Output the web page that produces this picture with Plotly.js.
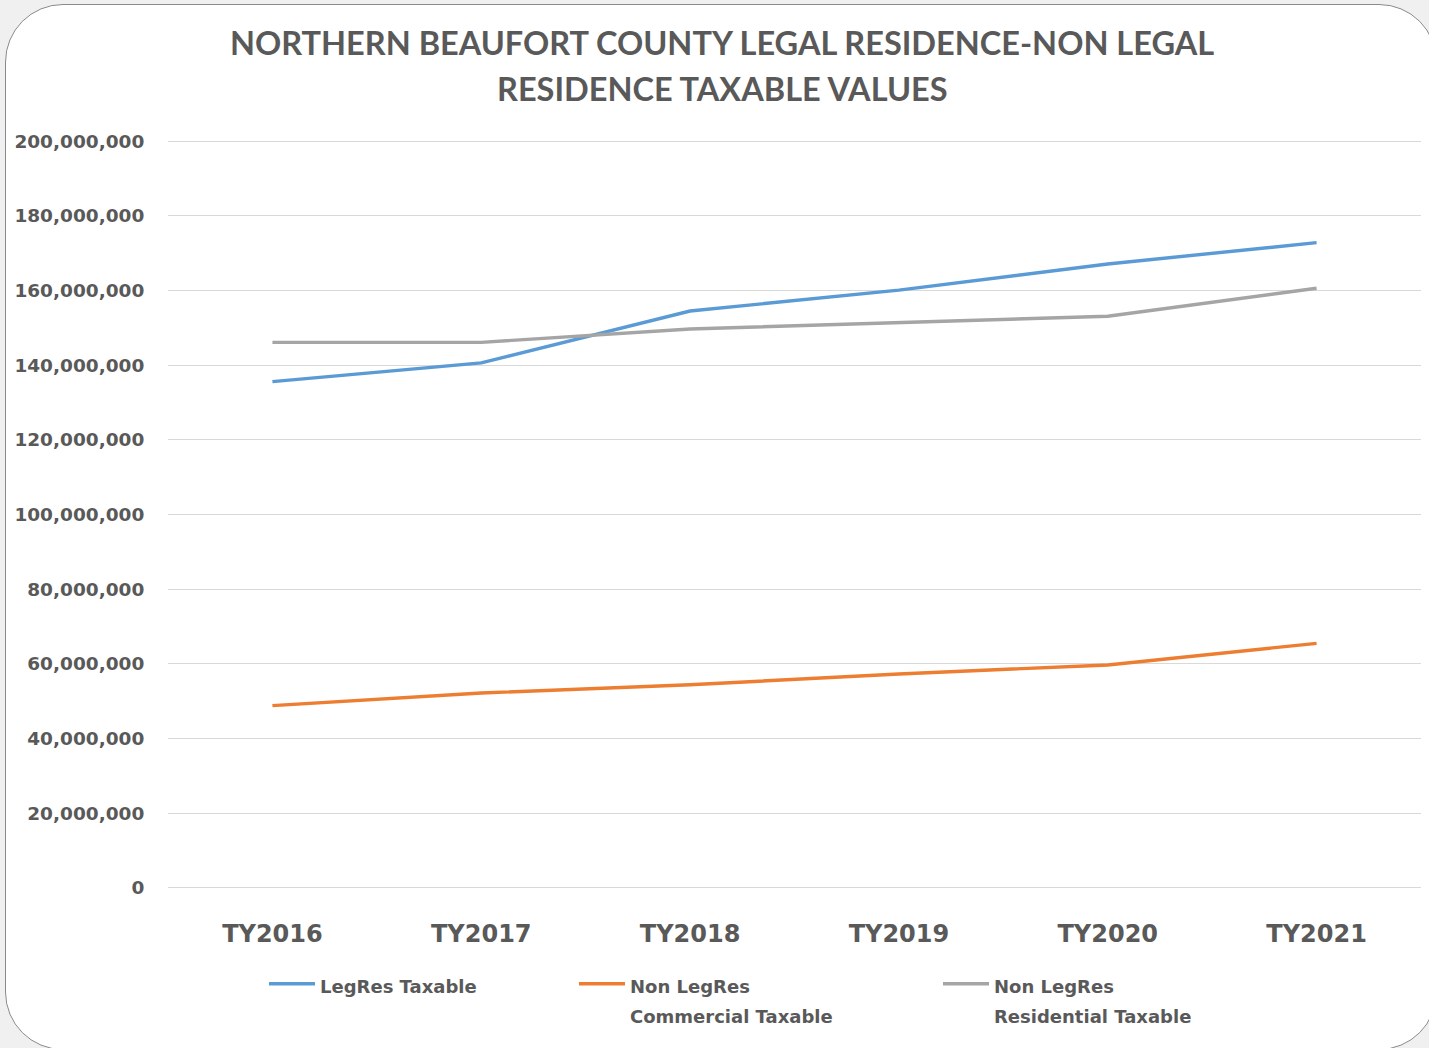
<!DOCTYPE html>
<html>
<head>
<meta charset="utf-8">
<script src="https://cdn.plot.ly/plotly-3.0.1.min.js"></script>
<style>
  html, body { margin: 0; padding: 0; background: #f0f0f0; width: 1429px; height: 1048px; overflow: hidden; }
  #frame { position: absolute; left: 5px; top: 4px; width: 1432px; height: 1046px; background: #ffffff;
           border: 1.5px solid #8a8a8a; border-radius: 58px; box-sizing: border-box; }
  #chart { position: absolute; left: 0; top: 0; width: 1429px; height: 1048px; }
</style>
</head>
<body>
<div id="frame"></div>
<div id="chart"></div>
<script>
const categories = ["TY2016", "TY2017", "TY2018", "TY2019", "TY2020", "TY2021"];
const legResTaxable = [135600000, 140600000, 154500000, 160100000, 167100000, 172800000];
const nonLegResCommercial = [48800000, 52200000, 54400000, 57300000, 59700000, 65500000];
const nonLegResResidential = [146100000, 146100000, 149700000, 151500000, 153100000, 160600000];
const yTickValues = [0, 20000000, 40000000, 60000000, 80000000, 100000000, 120000000, 140000000, 160000000, 180000000, 200000000];
const yTickLabels = ["0", "20,000,000", "40,000,000", "60,000,000", "80,000,000", "100,000,000", "120,000,000", "140,000,000", "160,000,000", "180,000,000", "200,000,000"];
const seriesNames = ["LegRes Taxable", "Non LegRes<br>Commercial Taxable", "Non LegRes<br>Residential Taxable"];
const titleLines = ["NORTHERN BEAUFORT COUNTY LEGAL RESIDENCE-NON LEGAL", "RESIDENCE TAXABLE VALUES"];

const TITLE_FONT = "Lato, 'Open Sans', sans-serif";
const FONT = "'DejaVu Sans', Verdana, sans-serif";
const TXT = "#595959";

function legendLabel(name) {
  return name.split("<br>").map(s => "<span style='font-size:18px'>" + s + "</span>").join("<br>");
}

const traces = [
  { x: categories, y: legResTaxable, name: legendLabel(seriesNames[0]), type: "scatter", mode: "lines",
    line: { color: "#5b9bd5", width: 3.4 }, legend: "legend" },
  { x: categories, y: nonLegResCommercial, name: legendLabel(seriesNames[1]), type: "scatter", mode: "lines",
    line: { color: "#ed7d31", width: 3.4 }, legend: "legend2" },
  { x: categories, y: nonLegResResidential, name: legendLabel(seriesNames[2]), type: "scatter", mode: "lines",
    line: { color: "#a5a5a5", width: 3.4 }, legend: "legend3" }
];

const legendBase = {
  orientation: "h", xref: "container", yref: "container", yanchor: "top", xanchor: "left",
  bgcolor: "rgba(0,0,0,0)", borderwidth: 0, itemwidth: 46, valign: "top",
  font: { family: FONT, size: 23.5, color: TXT, weight: 700 }, itemclick: false, itemdoubleclick: false
};

const layout = {
  width: 1429, height: 1048,
  paper_bgcolor: "rgba(0,0,0,0)", plot_bgcolor: "rgba(0,0,0,0)",
  margin: { l: 168, r: 8, t: 140, b: 159 },
  annotations: [
    { text: titleLines[0], xref: "paper", yref: "paper", x: (722 - 168) / 1253, y: (888 - 44) / 747,
      xanchor: "center", yanchor: "middle", showarrow: false,
      font: { family: TITLE_FONT, size: 32.5, color: TXT, weight: 700 } },
    { text: titleLines[1], xref: "paper", yref: "paper", x: (722 - 168) / 1253, y: (888 - 90) / 747,
      xanchor: "center", yanchor: "middle", showarrow: false,
      font: { family: TITLE_FONT, size: 32.5, color: TXT, weight: 700 } }
  ],
  xaxis: {
    type: "category", range: [-0.5, 5.5], showgrid: false, zeroline: false, showline: false,
    ticks: "outside", ticklen: 23, tickcolor: "rgba(0,0,0,0)",
    tickfont: { family: FONT, size: 24, color: TXT, weight: 700 }, fixedrange: true
  },
  yaxis: {
    range: [-300000, 200300000], tickmode: "array", tickvals: yTickValues, ticktext: yTickLabels,
    showgrid: true, gridcolor: "#d9d9d9", gridwidth: 1, zeroline: false, showline: false,
    ticks: "outside", ticklen: 19, tickcolor: "rgba(0,0,0,0)",
    tickfont: { family: FONT, size: 18.5, color: TXT, weight: 700 }, fixedrange: true
  },
  showlegend: true,
  legend: Object.assign({}, legendBase, { x: 264 / 1429, y: 1 - 962 / 1048 }),
  legend2: Object.assign({}, legendBase, { x: 574 / 1429, y: 1 - 962 / 1048 }),
  legend3: Object.assign({}, legendBase, { x: 938 / 1429, y: 1 - 962 / 1048 })
};

Plotly.newPlot("chart", traces, layout, { displayModeBar: false, staticPlot: true });
</script>
</body>
</html>
